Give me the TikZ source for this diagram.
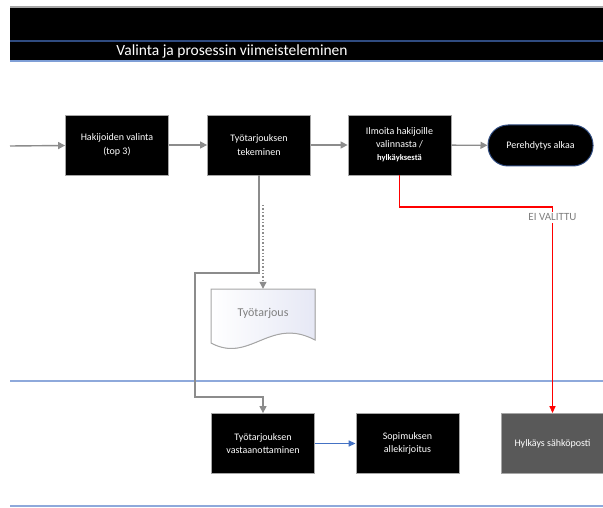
\documentclass[tikz,border=0pt]{standalone}
\usepackage{fontspec}
\setmainfont{Carlito}
\usetikzlibrary{arrows.meta}
\definecolor{lanetop}{HTML}{2F4B80}
\definecolor{lanebot}{HTML}{7F9FD6}
\definecolor{laneline}{HTML}{8EA9DB}
\definecolor{conngray}{HTML}{8C8C8C}
\definecolor{boxedge}{HTML}{A6A6A6}
\definecolor{rejectfill}{HTML}{595959}
\definecolor{linkblue}{HTML}{4472C4}
\definecolor{docfill}{HTML}{E6E8F5}
\definecolor{labelgray}{HTML}{7F7F7F}
\tikzset{
  stepbox/.style={draw=boxedge, line width=0.8pt, fill=black, text=white,
    minimum width=103pt, minimum height=60pt, inner sep=2pt, align=center,
    font=\fontsize{10pt}{13.5pt}\selectfont},
  endbox/.style={stepbox, draw=lanetop, line width=1pt, rounded corners=20pt,
    minimum width=105pt, minimum height=41pt},
  greybox/.style={stepbox, fill=rejectfill},
  conn/.style={draw=conngray, line width=1.4pt, -{Triangle[length=7pt,width=7pt]}},
  redconn/.style={draw=red, line width=1.3pt, -{Triangle[length=7pt,width=6pt]}},
  blueconn/.style={draw=linkblue, line width=1.3pt, -{Triangle[length=7pt,width=6pt]}},
  lane/.style={draw=laneline, line width=2.2pt},
}
\begin{document}
\begin{tikzpicture}[x=1pt, y=-1pt]
\useasboundingbox (0,0) rectangle (603,508);

% header band
\fill[black] (10,7) rectangle (603,61);
\draw[boxedge, line width=1.2pt] (10,7) -- (603,7);
\draw[lanetop, line width=1.2pt] (10,41) -- (603,41);
\draw[lanebot, line width=1.2pt] (10,61) -- (603,61);
\node[text=white, font=\fontsize{15.5pt}{18pt}\selectfont] (title) at (232,51) {Valinta ja prosessin viimeisteleminen};

% lane separators
\draw[lane] (10,381) -- (603,381);
\draw[lane] (10,506) -- (603,506);

% upper lane
\node[stepbox] (valinta) at (117,145) {Hakijoiden valinta\\(top 3)};
\node[stepbox] (tarjous) at (259,145) {Työtarjouksen\\tekeminen};
\node[stepbox, font=\fontsize{10pt}{13pt}\selectfont] (ilmoita) at (399.5,145)
  {Ilmoita hakijoille\\valinnasta /\\{\fontsize{8.5pt}{13pt}\selectfont\bfseries hylkäyksestä}};
\node[endbox] (pereh) at (540.5,145.5) {Perehdytys alkaa};

% document
\node[minimum width=104pt, minimum height=54pt, inner sep=0pt] (doc) at (263,316) {};
\filldraw[draw=boxedge, line width=1pt, left color=white, right color=docfill]
  (211,289) -- (315,289) -- (315,340)
  .. controls (270,316) and (250,364) .. (211,343) -- cycle;
\node[text=labelgray, font=\fontsize{12pt}{14pt}\selectfont] (doctext) at (263,313) {Työtarjous};

% lower lane
\node[stepbox] (vastaan) at (263,443.5) {Työtarjouksen\\vastaanottaminen};
\node[stepbox] (sopimus) at (407.5,443.5) {Sopimuksen\\allekirjoitus};
\node[greybox] (hylkays) at (552.5,443.5) {Hylkäys sähköposti};

% connectors
\coordinate (start) at (10,146);
\draw[conn] (start) -- (valinta);
\draw[conn] (valinta) -- (tarjous);
\draw[conn] (tarjous) -- (ilmoita);
\draw[conn] (ilmoita) -- (pereh);

\coordinate (dotstart) at (263,205);
\draw[conn, dotted, line width=1.2pt] (dotstart) -- (doc.north);

\draw[conn] (tarjous.south) -- (259,273) -- (195,273) -- (195,397)
  -- (263,397) -- (vastaan.north);

\draw[blueconn] (vastaan) -- (sopimus);

\draw[redconn] (ilmoita.south) -- (399.5,207) -- (552.5,207) -- (hylkays.north);
\node[fill=white, text=labelgray, inner sep=1.5pt, font=\fontsize{11pt}{12pt}\selectfont] (eival) at (552.5,217.5) {EI VALITTU};
\end{tikzpicture}
\end{document}
